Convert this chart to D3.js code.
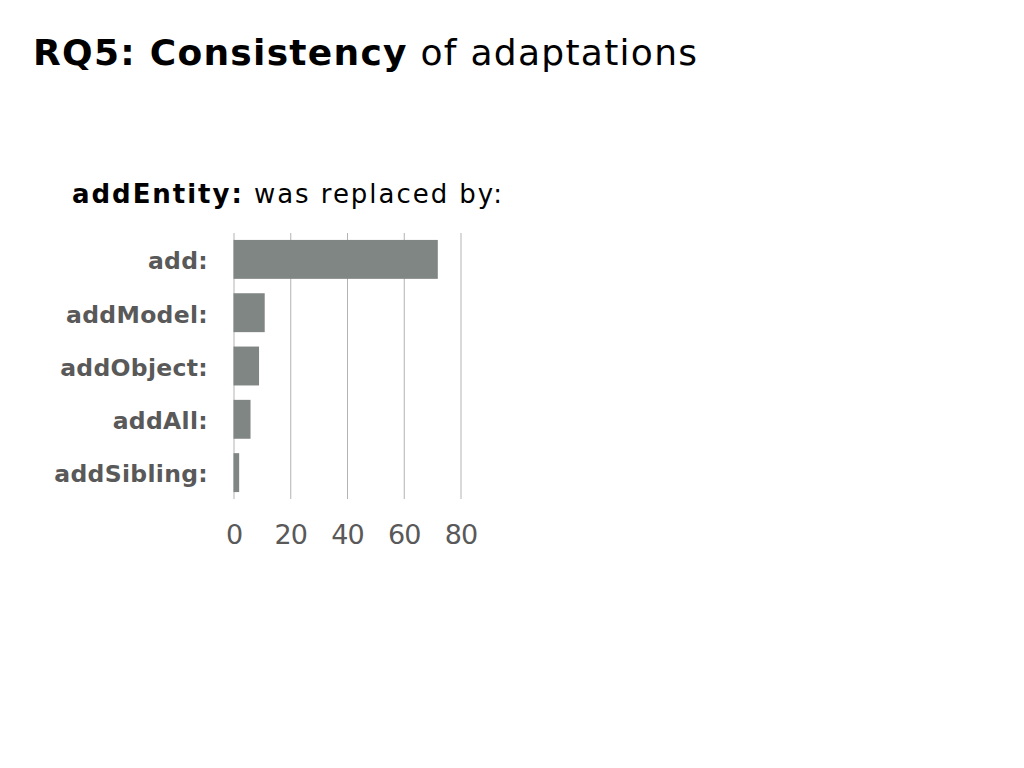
<!DOCTYPE html>
<html>
<head>
<meta charset="utf-8">
<script src="https://cdn.jsdelivr.net/npm/d3@7"></script>
<style>
  html, body { margin: 0; padding: 0; background: #ffffff; }
  svg { display: block; }
</style>
</head>
<body>
<svg id="chart" width="1024" height="768"></svg>
<script>
const categories = ["add:", "addModel:", "addObject:", "addAll:", "addSibling:"];
const values = [72, 11, 9, 6, 2];
const tickValues = [0, 20, 40, 60, 80];
const titleBold = "RQ5: Consistency";
const titleRest = " of adaptations";
const subBold = "addEntity:";
const subRest = " was replaced by:";

const svg = d3.select("#chart");
const font = "'DejaVu Sans', 'Liberation Sans', sans-serif";

// stretch a text horizontally to a target width using letter-spacing
function fitWidth(sel, target) {
  const node = sel.node();
  const w = node.getComputedTextLength();
  const n = node.textContent.length;
  if (n > 1) sel.attr("letter-spacing", (target - w) / (n - 1));
}

// Title
const title = svg.append("text")
  .attr("x", 33).attr("y", 65)
  .attr("font-family", font).attr("font-size", 36).attr("fill", "#000");
title.append("tspan").attr("font-weight", "bold").text(titleBold);
title.append("tspan").text(titleRest);
fitWidth(title, 664);

// Subtitle
const sub = svg.append("text")
  .attr("x", 72).attr("y", 203)
  .attr("font-family", font).attr("font-size", 26).attr("fill", "#000");
sub.append("tspan").attr("font-weight", "bold").text(subBold);
sub.append("tspan").text(subRest);
fitWidth(sub, 430);

// Scales
const x = d3.scaleLinear().domain([0, 80]).range([233.5, 460.5]);
const y = d3.scaleBand().domain(categories).range([233, 499])
  .paddingInner(0.27).paddingOuter(0.13);

// Gridlines + tick labels
const xAxis = svg.append("g")
  .attr("transform", "translate(0,499)")
  .call(d3.axisBottom(x).tickValues(tickValues).tickSize(-(499 - 233)).tickSizeOuter(0).tickPadding(26));
xAxis.select(".domain").remove();
xAxis.selectAll(".tick line").attr("stroke", "#b3b3b3").attr("stroke-width", 1);
xAxis.selectAll(".tick text")
  .attr("font-family", font).attr("font-size", 27).attr("fill", "#595959")
  .attr("letter-spacing", -1);

// Bars
svg.append("g").selectAll("rect")
  .data(values)
  .join("rect")
  .attr("x", x(0))
  .attr("y", (d, i) => y(categories[i]))
  .attr("width", d => x(d) - x(0))
  .attr("height", y.bandwidth())
  .attr("fill", "#808683");

// Category labels
const yAxis = svg.append("g")
  .attr("transform", "translate(233,0)")
  .call(d3.axisLeft(y).tickSize(0).tickPadding(25));
yAxis.select(".domain").remove();
yAxis.selectAll(".tick text")
  .attr("font-family", font).attr("font-size", 23.5).attr("font-weight", "bold").attr("fill", "#595959")
  .attr("letter-spacing", 0.3).attr("dy", "0.42em");
</script>
</body>
</html>
